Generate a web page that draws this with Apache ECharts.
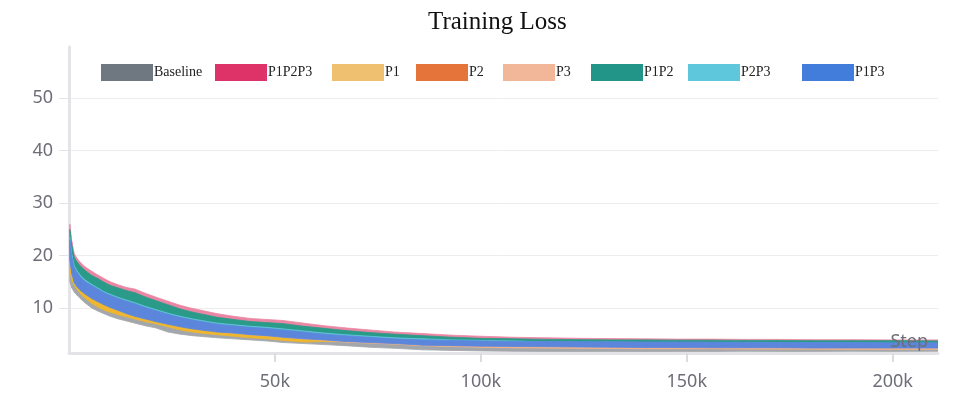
<!DOCTYPE html>
<html>
<head>
<meta charset="utf-8">
<script src="https://cdn.jsdelivr.net/npm/echarts@6/dist/echarts.min.js"></script>
<style>
  html, body { margin: 0; padding: 0; background: #fff; }
  #chart { width: 972px; height: 406px; }
</style>
</head>
<body>
<div id="chart"></div>
<script>
// training step, in thousands
const steps = [0.2, 0.7, 1.3, 2, 3, 4, 5.5, 7, 8.5, 10,
  12, 14, 16, 18.5, 21, 24, 27, 30, 33, 36,
  40, 44, 48, 52, 57, 62, 67, 73, 79, 86,
  93, 100, 108, 116, 124, 132, 140, 148, 156, 164,
  172, 180, 190, 200, 211];

// each run is drawn as its noise band: lower / upper edge of the raw loss
const baselineLo = [15.0, 13.8, 13.0, 12.4, 11.6, 10.9, 10.0, 9.4, 8.9, 8.4,
  7.9, 7.5, 7.1, 6.6, 6.2, 5.4, 5.0, 4.7, 4.5, 4.3,
  4.1, 3.9, 3.7, 3.4, 3.2, 3.0, 2.8, 2.5, 2.3, 2.0,
  1.9, 1.8, 1.72, 1.68, 1.64, 1.62, 1.66, 1.7, 1.68, 1.72,
  1.7, 1.68, 1.72, 1.7, 1.72];
const baselineHi = [18.5, 16.0, 14.6, 13.8, 13.0, 12.2, 11.3, 10.6, 10.0, 9.5,
  9.0, 8.5, 8.0, 7.5, 7.1, 6.5, 5.9, 5.5, 5.3, 5.0,
  4.8, 4.6, 4.4, 4.2, 3.9, 3.7, 3.5, 3.3, 3.1, 2.8,
  2.7, 2.55, 2.5, 2.45, 2.4, 2.35, 2.35, 2.3, 2.35, 2.3,
  2.3, 2.35, 2.3, 2.3, 2.3];

const p1p2p3Lo = [22.0, 19.5, 18.0, 17.2, 16.3, 15.6, 14.8, 14.1, 13.4, 12.8,
  12.1, 11.6, 11.2, 10.5, 10.0, 9.4, 8.9, 8.4, 8.0, 7.6,
  7.2, 6.9, 6.7, 6.4, 6.0, 5.6, 5.3, 5.0, 4.7, 4.4,
  4.2, 4.0, 3.9, 3.8, 3.75, 3.7, 3.7, 3.65, 3.6, 3.6,
  3.55, 3.55, 3.5, 3.5, 3.45];
const p1p2p3Hi = [26.0, 22.6, 20.3, 19.4, 18.5, 17.8, 17.0, 16.3, 15.6, 15.0,
  14.4, 13.9, 13.6, 12.8, 12.1, 11.3, 10.5, 9.9, 9.4, 8.9,
  8.4, 8.0, 7.8, 7.6, 7.1, 6.6, 6.2, 5.8, 5.4, 5.1,
  4.8, 4.6, 4.4, 4.3, 4.2, 4.15, 4.1, 4.05, 4.05, 4.0,
  4.0, 3.95, 3.95, 3.9, 3.9];

const p1Lo = [17.0, 15.2, 14.3, 13.5, 12.5, 11.8, 10.9, 10.2, 9.6, 9.2,
  8.7, 8.3, 7.9, 7.4, 7.0, 6.4, 5.8, 5.4, 5.1, 4.9,
  4.6, 4.3, 4.1, 3.8, 3.5, 3.6, 3.55, 3.35, 3.15, 2.85,
  2.7, 2.55, 2.45, 2.4, 2.35, 2.3, 2.25, 2.25, 2.25, 2.2,
  2.2, 2.2, 2.15, 2.15, 2.15];
const p1Hi = [20.0, 17.5, 15.8, 14.8, 13.8, 13.0, 12.0, 11.3, 10.7, 10.2,
  9.7, 9.2, 8.8, 8.3, 7.9, 7.3, 6.7, 6.3, 6.0, 5.7,
  5.4, 5.1, 4.9, 4.6, 4.3, 4.1, 3.9, 3.6, 3.4, 3.2,
  3.0, 2.9, 2.8, 2.75, 2.7, 2.7, 2.65, 2.65, 2.6, 2.6,
  2.6, 2.6, 2.55, 2.55, 2.55];

const p2Lo = [19.5, 17.0, 15.2, 14.4, 13.6, 12.9, 12.1, 11.5, 10.9, 10.4,
  9.8, 9.2, 8.7, 8.2, 7.7, 7.2, 6.7, 6.3, 6.0, 5.7,
  5.4, 5.1, 4.9, 4.6, 4.3, 4.0, 3.7, 3.5, 3.3, 3.0,
  2.85, 2.7, 2.6, 2.5, 2.45, 2.4, 2.4, 2.35, 2.35, 2.3,
  2.3, 2.3, 2.25, 2.25, 2.25];
const p2Hi = [22.0, 19.0, 17.0, 16.2, 15.2, 14.5, 13.7, 13.0, 12.4, 11.9,
  11.3, 10.7, 10.2, 9.6, 9.0, 8.4, 7.8, 7.3, 6.9, 6.6,
  6.3, 6.0, 5.7, 5.4, 5.0, 4.7, 4.4, 4.1, 3.9, 3.6,
  3.5, 3.4, 3.3, 3.2, 3.1, 3.05, 3.0, 3.0, 2.95, 2.9,
  2.9, 2.9, 2.85, 2.85, 2.8];

const p3Lo = [19.2, 16.8, 15.0, 14.2, 13.4, 12.7, 11.9, 11.3, 10.7, 10.2,
  9.6, 9.0, 8.5, 8.0, 7.5, 7.0, 6.5, 6.1, 5.8, 5.5,
  5.2, 4.9, 4.7, 4.4, 4.1, 3.8, 3.5, 3.3, 3.1, 2.8,
  2.65, 2.5, 2.4, 2.35, 2.3, 2.25, 2.2, 2.2, 2.2, 2.15,
  2.15, 2.15, 2.1, 2.1, 2.1];
const p3Hi = [21.5, 18.6, 16.6, 15.8, 14.8, 14.1, 13.3, 12.6, 12.0, 11.5,
  10.9, 10.3, 9.8, 9.2, 8.6, 8.0, 7.4, 7.0, 6.6, 6.3,
  6.0, 5.7, 5.4, 5.1, 4.8, 4.5, 4.2, 3.9, 3.7, 3.4,
  3.3, 3.2, 3.1, 3.0, 2.9, 2.85, 2.8, 2.8, 2.75, 2.75,
  2.7, 2.7, 2.7, 2.65, 2.65];

const p1p2Lo = [21.0, 18.5, 17.0, 16.2, 15.3, 14.6, 13.8, 13.1, 12.4, 11.8,
  11.1, 10.6, 10.2, 9.5, 9.0, 8.4, 7.9, 7.4, 7.0, 6.6,
  6.3, 6.0, 5.8, 5.5, 5.1, 4.8, 4.5, 4.3, 4.1, 3.8,
  3.7, 3.6, 3.5, 3.45, 3.4, 3.4, 3.4, 3.35, 3.3, 3.3,
  3.3, 3.3, 3.25, 3.25, 3.2];
const p1p2Hi = [25.0, 21.8, 19.6, 18.7, 17.8, 17.1, 16.2, 15.6, 14.9, 14.3,
  13.8, 13.3, 12.9, 12.1, 11.4, 10.6, 9.8, 9.2, 8.7, 8.2,
  7.8, 7.4, 7.2, 7.0, 6.5, 6.1, 5.7, 5.3, 5.0, 4.7,
  4.4, 4.2, 4.1, 4.0, 3.95, 3.9, 3.9, 3.85, 3.85, 3.8,
  3.8, 3.75, 3.75, 3.75, 3.7];

const p2p3Lo = [19.8, 17.3, 15.5, 14.6, 13.8, 13.1, 12.3, 11.7, 11.1, 10.6,
  10.0, 9.4, 8.9, 8.4, 7.9, 7.4, 6.9, 6.5, 6.2, 5.9,
  5.6, 5.3, 5.1, 4.8, 4.5, 4.2, 3.9, 3.7, 3.5, 3.2,
  3.1, 3.0, 2.9, 2.85, 2.8, 2.75, 2.7, 2.7, 2.65, 2.65,
  2.6, 2.6, 2.55, 2.55, 2.5];
const p2p3Hi = [23.5, 20.0, 18.0, 17.0, 16.0, 15.3, 14.5, 13.8, 13.1, 12.6,
  12.0, 11.5, 11.0, 10.3, 9.7, 9.0, 8.4, 7.9, 7.5, 7.1,
  6.8, 6.5, 6.3, 6.0, 5.6, 5.2, 4.9, 4.6, 4.3, 4.1,
  3.9, 3.8, 3.7, 3.5, 3.45, 3.45, 3.4, 3.4, 3.35, 3.35,
  3.3, 3.3, 3.3, 3.25, 3.25];

const p1p3Lo = [19.0, 16.5, 14.8, 14.0, 13.2, 12.6, 11.8, 11.2, 10.6, 10.1,
  9.5, 8.9, 8.4, 7.9, 7.4, 6.9, 6.4, 6.0, 5.7, 5.4,
  5.2, 4.9, 4.7, 4.4, 4.1, 3.9, 3.6, 3.4, 3.2, 2.9,
  2.8, 2.7, 2.65, 2.6, 2.55, 2.5, 2.45, 2.45, 2.4, 2.4,
  2.4, 2.35, 2.35, 2.35, 2.35];
const p1p3Hi = [23.0, 19.5, 17.6, 16.7, 15.7, 15.0, 14.3, 13.6, 12.9, 12.4,
  11.8, 11.3, 10.8, 10.1, 9.5, 8.8, 8.2, 7.7, 7.3, 6.9,
  6.6, 6.3, 6.1, 5.8, 5.4, 5.0, 4.7, 4.4, 4.1, 3.9,
  3.8, 3.7, 3.6, 3.6, 3.55, 3.55, 3.5, 3.5, 3.45, 3.45,
  3.4, 3.4, 3.4, 3.35, 3.35];

const yTicks = [10, 20, 30, 40, 50];
const xTicks = [50, 100, 150, 200];

// name, lower, upper, legend swatch colour, band colour, legend left
const runs = [
  ["Baseline", baselineLo, baselineHi, "#6f7780", "#a3a7ab", 101],
  ["P1P2P3", p1p2p3Lo, p1p2p3Hi, "#dd3368", "#ea86a3", 215],
  ["P1", p1Lo, p1Hi, "#eec070", "#efb62e", 332],
  ["P2", p2Lo, p2Hi, "#e5743a", "#e9803f", 416],
  ["P3", p3Lo, p3Hi, "#f2b698", "#f1b393", 503],
  ["P1P2", p1p2Lo, p1p2Hi, "#239488", "#2a9b89", 591],
  ["P2P3", p2p3Lo, p2p3Hi, "#5ec7dc", "#62c6da", 688],
  ["P1P3", p1p3Lo, p1p3Hi, "#437ddb", "#5b86dc", 802],
];

const axisGray = "#6e6e78";
const sansFont = "Noto Sans";
const serifFont = "Liberation Serif";

// one quad per step interval: [x0, x1, lo0, hi0, lo1, hi1]
function bandData(lo, hi) {
  const out = [];
  for (let i = 0; i < steps.length - 1; i++) {
    out.push([steps[i], steps[i + 1], lo[i], hi[i], lo[i + 1], hi[i + 1]]);
  }
  return out;
}

function bandRenderer(color) {
  return function (params, api) {
    const a = api.coord([api.value(0), api.value(3)]);
    const b = api.coord([api.value(1), api.value(5)]);
    const c = api.coord([api.value(1), api.value(4)]);
    const d = api.coord([api.value(0), api.value(2)]);
    return {
      type: "polygon",
      shape: { points: [a, b, c, d] },
      style: { fill: color, stroke: color, lineWidth: 0.8 },
    };
  };
}

const chart = echarts.init(document.getElementById("chart"));

chart.setOption({
  animation: false,
  title: {
    text: "Training Loss",
    left: 423,
    top: 5,
    textStyle: {
      fontFamily: serifFont,
      fontSize: 25,
      fontWeight: "normal",
      color: "#111",
    },
  },
  legend: runs.map((r) => ({
    data: [{ name: r[0], icon: "rect" }],
    left: r[5],
    top: 64,
    padding: 0,
    itemWidth: 52,
    itemHeight: 17,
    selectedMode: false,
    textStyle: {
      fontFamily: serifFont,
      fontSize: 14,
      color: "#222",
      padding: [0, 0, 0, -4],
    },
  })),
  grid: {
    left: 69,
    right: 34,
    top: 47,
    bottom: 53,
  },
  xAxis: {
    type: "value",
    z: 5,
    min: 0,
    max: 211,
    name: "Step",
    nameLocation: "end",
    nameGap: -10,
    nameTextStyle: {
      align: "right",
      verticalAlign: "bottom",
      fontFamily: sansFont,
      fontSize: 18,
      color: axisGray,
      padding: [0, 0, 2, 0],
    },
    axisLine: { onZero: false, lineStyle: { color: "#e4e4e8", width: 3 } },
    axisTick: {
      customValues: xTicks,
      length: 9,
      lineStyle: { color: "#dcdcdc", width: 2 },
    },
    axisLabel: {
      customValues: xTicks,
      margin: 20,
      fontFamily: sansFont,
      fontSize: 18,
      color: axisGray,
      formatter: (v) => v + "k",
    },
    splitLine: { show: false },
  },
  yAxis: {
    type: "value",
    min: 1.4,
    max: 59.8,
    axisLine: { show: true, lineStyle: { color: "#e4e4e8", width: 3 } },
    axisTick: {
      show: true,
      customValues: yTicks,
      length: 10,
      lineStyle: { color: "#e4e4e8", width: 1 },
    },
    axisLabel: {
      customValues: yTicks,
      margin: 16,
      fontFamily: sansFont,
      fontSize: 18,
      color: axisGray,
    },
    splitLine: { show: true, lineStyle: { color: "#ececec", width: 1 } },
  },
  series: runs.map((r) => ({
    name: r[0],
    type: "custom",
    clip: true,
    itemStyle: { color: r[3] },
    emphasis: { disabled: true },
    encode: { x: [0, 1], y: [2, 3, 4, 5] },
    renderItem: bandRenderer(r[4]),
    data: bandData(r[1], r[2]),
  })),
});
</script>
</body>
</html>
